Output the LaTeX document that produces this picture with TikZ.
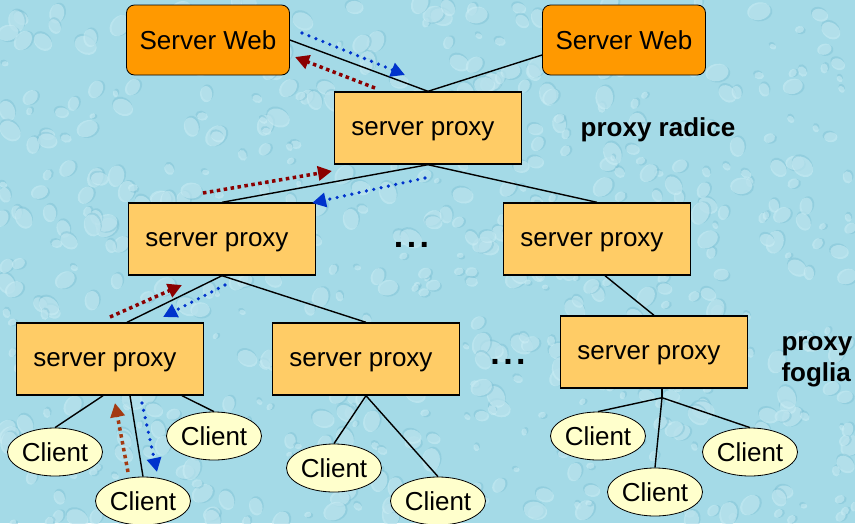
\documentclass[tikz,border=0pt]{standalone}
\usepackage{fontspec}
\setmainfont{Liberation Sans}
\usetikzlibrary{shapes.geometric,arrows.meta,calc}
\definecolor{bgwater}{HTML}{A4DAE7}
\definecolor{dropdark}{HTML}{7DC0D4}
\definecolor{droplight}{HTML}{CDEEF5}
\definecolor{webfill}{HTML}{FF9900}
\definecolor{proxyfill}{HTML}{FFCC66}
\definecolor{clientfill}{HTML}{FFFFCC}
\definecolor{reqred}{HTML}{8B0000}
\definecolor{respblue}{HTML}{0033CC}
\definecolor{reqbrown}{HTML}{A33A12}

\begin{document}
\begin{tikzpicture}[x=1pt,y=-1pt,
  every node/.style={font=\fontsize{26}{30}\selectfont},
  webbox/.style={draw=black, line width=0.8pt, fill=webfill, rounded corners=8pt,
    minimum width=163pt, minimum height=70pt, inner sep=0pt},
  proxybox/.style={draw=black, line width=1.4pt, fill=proxyfill,
    minimum width=187pt, minimum height=72pt, inner sep=0pt, text depth=0pt,
    execute at begin node={\hspace*{-10pt}}},
  clientnode/.style={ellipse, draw=black, line width=0.8pt, fill=clientfill,
    minimum width=95pt, minimum height=48pt, inner sep=0pt},
  boldlabel/.style={font=\fontsize{26}{31}\selectfont\bfseries},
  dotslabel/.style={font=\fontsize{34}{34}\selectfont\bfseries, anchor=base, inner sep=0pt},
  link/.style={line width=1.4pt},
  reqflow/.style={line width=3.5pt, dash pattern=on 3.5pt off 3.5pt,
    -{Triangle[length=14pt,width=14pt]}},
  respflow/.style={line width=3.6pt, line cap=round, dash pattern=on 0pt off 7.5pt,
    -{Triangle[length=14pt,width=14pt]}}
]
\useasboundingbox (0,0) rectangle (855,523);

% water-drop backdrop
\begin{scope}
  \clip (0,0) rectangle (855,523);
  \fill[bgwater] (0,0) rectangle (855,523);
  \pgfmathsetseed{42}
  \foreach \i in {1,...,650}{
    \pgfmathsetmacro{\px}{rnd*855}
    \pgfmathsetmacro{\py}{rnd*523}
    \pgfmathsetmacro{\rs}{3+rnd*9}
    \pgfmathsetmacro{\rot}{rnd*180}
    \fill[dropdark, opacity=0.45, rotate around={\rot:(\px,\py)}]
      (\px+1.5,\py+1.5) ellipse ({\rs} and {\rs*0.75});
    \fill[droplight, opacity=0.55, rotate around={\rot:(\px,\py)}]
      (\px,\py) ellipse ({\rs} and {\rs*0.75});
  }
\end{scope}

% servers and proxies
\node[webbox] (swl) at (208,40) {Server Web};
\node[webbox] (swr) at (624,40) {Server Web};
\node[proxybox] (root) at (428,128) {server proxy};
\node[proxybox] (midL) at (222,239) {server proxy};
\node[proxybox] (midR) at (597,239) {server proxy};
\node[proxybox] (leafA) at (110,359) {server proxy};
\node[proxybox] (leafB) at (366,359) {server proxy};
\node[proxybox] (leafC) at (654,352) {server proxy};

% clients
\node[clientnode] (cA1) at (55,452) {Client};
\node[clientnode] (cA2) at (214,436) {Client};
\node[clientnode] (cA3) at (143,501) {Client};
\node[clientnode] (cB1) at (334,468) {Client};
\node[clientnode] (cB2) at (438,501) {Client};
\node[clientnode] (cC1) at (598,436) {Client};
\node[clientnode] (cC2) at (655,492) {Client};
\node[clientnode] (cC3) at (750,452) {Client};

% labels
\node[boldlabel] (lblroot) at (658,130) {proxy radice};
\node[boldlabel, anchor=west, align=left] (lblleaf) at (778,362) {proxy\\foglia};
\node[dotslabel] (dotsA) at (411.5,247) {.\kern3.5pt.\kern3.5pt.};
\node[dotslabel] (dotsB) at (508,364) {.\kern3.5pt.\kern3.5pt.};

% tree links
\draw[link] (swl.east) -- (root.north);
\draw[link] ([yshift=-15pt]swr.west) -- (root.north);
\draw[link] (root.south) -- (midL.north);
\draw[link] (root.south) -- (midR.north);
\draw[link] (midL.south) -- ([xshift=17pt]leafA.north);
\draw[link] (midL.south) -- (leafB.north);
\draw[link] ([xshift=8pt]midR.south) -- (leafC.north);
\draw[link] ([xshift=-7pt]leafA.south) -- (cA1.north);
\draw[link] ([xshift=20pt]leafA.south) -- (cA3.north);
\draw[link] ([xshift=72pt]leafA.south) -- (cA2.north);
\draw[link] (leafB.south) -- (cB1.north);
\draw[link] (leafB.south) -- (cB2.north);
\coordinate (jC) at ([xshift=8pt,yshift=-9pt]leafC.south);
\draw[link] ([xshift=8pt]leafC.south) -- (jC);
\draw[link] (jC) -- (cC1.north);
\draw[link] (jC) -- (cC2.north);
\draw[link] (jC) -- (cC3.north);

% request / response flows
\coordinate (r1s) at (375,88);  \coordinate (r1e) at (295,57);
\coordinate (b1s) at (302,33);  \coordinate (b1e) at (405,75);
\coordinate (r2s) at (203,193); \coordinate (r2e) at (332,171);
\coordinate (b2s) at (425,178); \coordinate (b2e) at (312,203);
\coordinate (r3s) at (110,317); \coordinate (r3e) at (182,285);
\coordinate (b3s) at (225,285); \coordinate (b3e) at (163,317);
\coordinate (r4s) at (128,472); \coordinate (r4e) at (115,403);
\coordinate (b4s) at (142,403); \coordinate (b4e) at (157,472);
\draw[reqflow, reqred] (r1s) -- (r1e);
\draw[respflow, respblue] (b1s) -- (b1e);
\draw[reqflow, reqred] (r2s) -- (r2e);
\draw[respflow, respblue] (b2s) -- (b2e);
\draw[reqflow, reqred] (r3s) -- (r3e);
\draw[respflow, respblue] (b3s) -- (b3e);
\draw[reqflow, reqbrown] (r4s) -- (r4e);
\draw[respflow, respblue] (b4s) -- (b4e);
\end{tikzpicture}
\end{document}
